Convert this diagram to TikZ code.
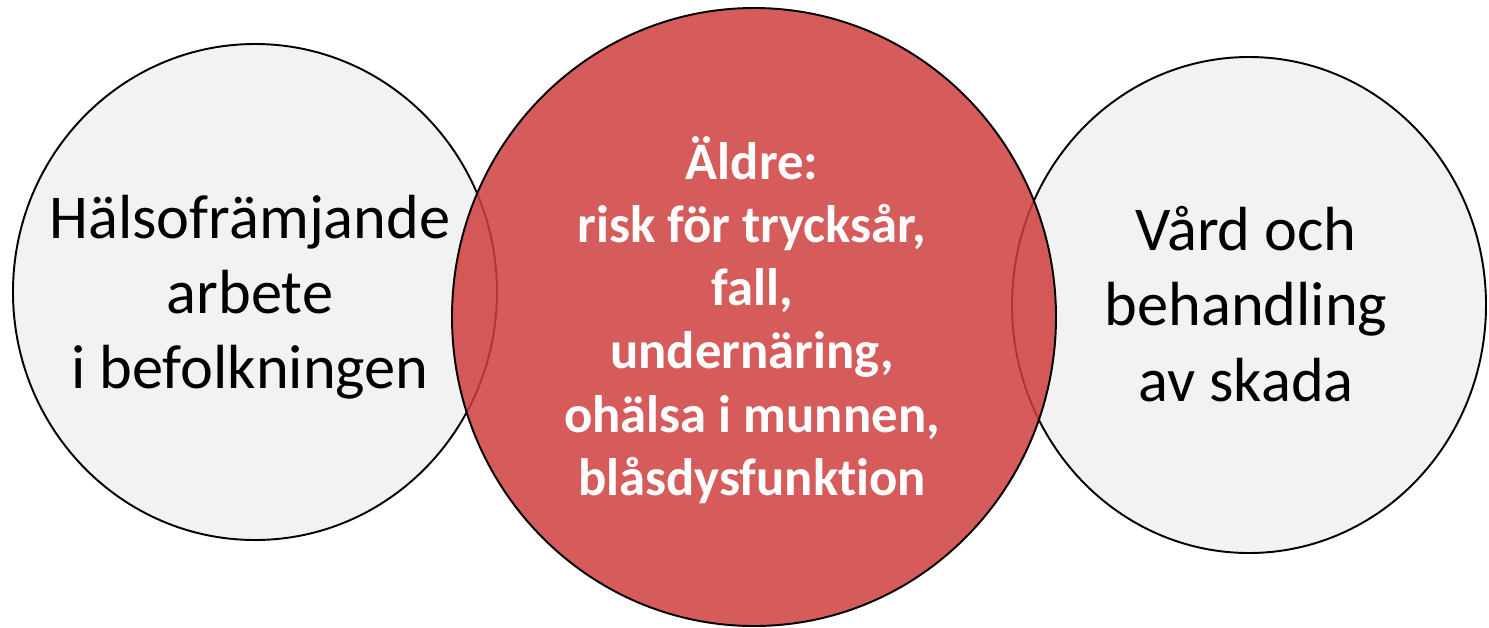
\documentclass[tikz,border=0pt]{standalone}
\usepackage{fontspec}
\setmainfont{Carlito}[Ligatures=NoCommon]
\usetikzlibrary{positioning}
\definecolor{sidegray}{RGB}{242,242,242}
\definecolor{oldred}{RGB}{207,62,62}

\begin{document}
\begin{tikzpicture}[x=0.02cm, y=-0.02cm,
    sidecircle/.style={draw=black, line width=1.1pt, fill=sidegray},
    midcircle/.style={draw=black, line width=1.1pt, fill=oldred, fill opacity=0.85},
    sidetext/.style={align=center, inner sep=0pt, font=\fontsize{35.5}{42.8}\selectfont},
    midtext/.style={align=center, inner sep=0pt, text=white, font=\fontsize{30}{36}\selectfont\bfseries}]
    \useasboundingbox (0,0) rectangle (1489,627);

    % Circles
    \draw[sidecircle] (255,292) ellipse [x radius=242, y radius=248];
    \draw[sidecircle] (1249,305) ellipse [x radius=237, y radius=248];
    \draw[midcircle] (754,317) ellipse [x radius=302, y radius=309];

    % Labels
    \node[sidetext] (halsa) at (250,297) {Hälsofrämjande\\arbete\\ i befolkningen};
    \node[midtext] (aldre) at (752,320) {Äldre:\\risk för trycksår,\\fall,\\undernäring,\\ohälsa i munnen,\\blåsdysfunktion};
    \node[sidetext] (vard) at (1246,304) {Vård och\\behandling\\av skada};
\end{tikzpicture}
\end{document}
